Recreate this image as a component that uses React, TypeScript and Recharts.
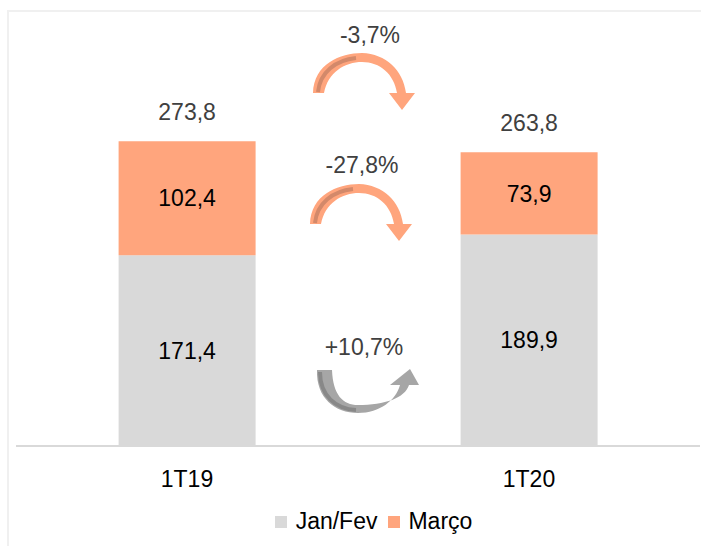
import { BarChart, Bar, XAxis, YAxis, LabelList } from 'recharts';

const categories = ['1T19', '1T20'];
const janFev = [171.4, 189.9];
const marco = [102.4, 73.9];
const totals = [273.8, 263.8];
const variations = ['-3,7%', '-27,8%', '+10,7%'];

const GRAY = '#D9D9D9';
const ORANGE = '#FFA57D';
const FONT = '"Liberation Sans", Arial, sans-serif';
const FS = 23;

const data = categories.map((name, i) => ({
  name,
  janFev: janFev[i],
  marco: marco[i],
  total: totals[i],
}));

const fmt = (v: any) => Number(v).toFixed(1).replace('.', ',');

const TotalLabel = (props: any) => {
  const { x, y, width, index } = props;
  return (
    <text x={x + width / 2} y={y - 21} textAnchor="middle" fontSize={FS} fill="#404040" fontFamily={FONT}>
      {fmt(totals[index])}
    </text>
  );
};

const Tick = (props: any) => {
  const { x, y, payload } = props;
  return (
    <text x={x} y={y + 33} textAnchor="middle" fontSize={FS} fill="#000" fontFamily={FONT}>
      {payload.value}
    </text>
  );
};

// curved orange arrow (decoration)
function OrangeArrow({ dx, dy }: { dx: number; dy: number }) {
  return (
    <g transform={`translate(${dx},${dy})`}>
      <path
        d="M313,93 C314,64 340,53 362,53 C386,54 403,70 406,93 L415,93 L402,110 L389,93 L397,93 C394,74 380,62 362,62 C345,62 328,72 324,93 Z"
        fill={ORANGE}
      />
      <path d="M318,92 C320,72 336,60 356,58" stroke="#D3896A" strokeWidth={4} fill="none" />
    </g>
  );
}

function GrayArrow() {
  return (
    <g>
      <path
        d="M317,370 C316,398 335,413 358,413 C380,413 396,400 400,385 L390,385 L410,369 L419,385 L409,385 C405,398 385,405 358,405 C343,405 333,395 332,370 Z"
        fill="#A6A6A6"
      />
      <path d="M320,372 C320,396 336,409 356,410" stroke="#888888" strokeWidth={4} fill="none" />
    </g>
  );
}

export default function App() {
  return (
    <div style={{ position: 'absolute', left: 0, top: 0, width: 701, height: 546, fontFamily: FONT, overflow: 'hidden' }}>
      <div
        style={{
          position: 'absolute',
          left: 7,
          top: 10,
          width: 694,
          height: 536,
          borderLeft: '2px solid #F0F0F0',
          borderTop: '2px solid #F0F0F0',
          boxSizing: 'border-box',
        }}
      />
      <div style={{ position: 'absolute', left: 0, top: 0 }}>
        <BarChart
          width={701}
          height={546}
          data={data}
          margin={{ top: 112, right: 1, left: 16, bottom: 70 }}
          barCategoryGap="30%"
        >
          <XAxis
            dataKey="name"
            axisLine={{ stroke: GRAY, strokeWidth: 2 }}
            tickLine={false}
            tick={<Tick />}
            height={30}
          />
          <YAxis hide domain={[0, 300]} />
          <Bar dataKey="janFev" stackId="a" fill={GRAY} isAnimationActive={false}>
            <LabelList dataKey="janFev" position="center" formatter={fmt} fontSize={FS} fill="#000" fontFamily={FONT} />
          </Bar>
          <Bar dataKey="marco" stackId="a" fill={ORANGE} isAnimationActive={false}>
            <LabelList dataKey="marco" position="center" formatter={fmt} fontSize={FS} fill="#000" fontFamily={FONT} />
            <LabelList dataKey="total" content={<TotalLabel />} />
          </Bar>
        </BarChart>
      </div>
      <svg width={701} height={546} style={{ position: 'absolute', left: 0, top: 0, pointerEvents: 'none' }}>
        <OrangeArrow dx={0} dy={0} />
        <OrangeArrow dx={-3} dy={131} />
        <GrayArrow />
        <text x={370} y={35} textAnchor="middle" dominantBaseline="central" fontSize={FS} fill="#404040" fontFamily={FONT}>
          {variations[0]}
        </text>
        <text x={362} y={165} textAnchor="middle" dominantBaseline="central" fontSize={FS} fill="#404040" fontFamily={FONT}>
          {variations[1]}
        </text>
        <text x={364} y={347} textAnchor="middle" dominantBaseline="central" fontSize={FS} fill="#404040" fontFamily={FONT}>
          {variations[2]}
        </text>
      </svg>
      <div
        style={{
          position: 'absolute',
          left: 0,
          width: 701,
          top: 508,
          display: 'flex',
          justifyContent: 'center',
          alignItems: 'center',
          fontSize: FS,
          color: '#000',
          paddingLeft: 46,
          boxSizing: 'border-box',
        }}
      >
        <span style={{ width: 12, height: 12, background: GRAY, display: 'inline-block', marginRight: 9 }} />
        <span style={{ marginRight: 11 }}>Jan/Fev</span>
        <span style={{ width: 12, height: 12, background: ORANGE, display: 'inline-block', marginRight: 8 }} />
        <span>Março</span>
      </div>
    </div>
  );
}
